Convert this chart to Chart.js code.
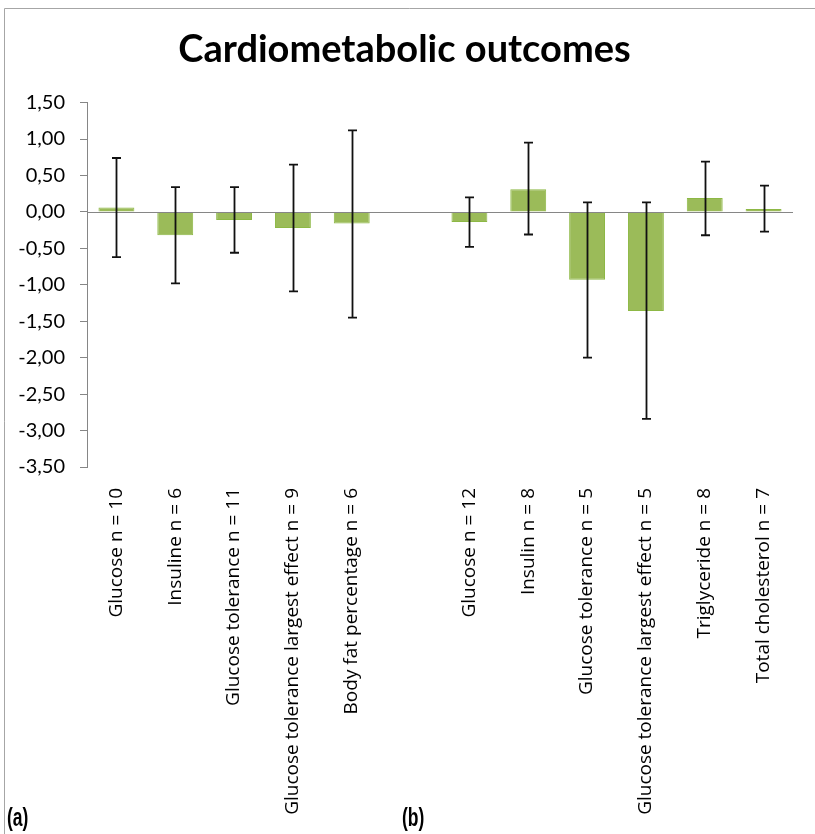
<!DOCTYPE html>
<html>
<head>
<meta charset="utf-8">
<script src="https://cdn.jsdelivr.net/npm/chart.js@4.4.1/dist/chart.umd.min.js"></script>
<style>
  html, body { margin: 0; padding: 0; background: #ffffff; }
  #wrap { position: relative; width: 815px; height: 834px; }
  canvas { display: block; }
</style>
</head>
<body>
<div id="wrap"><canvas id="c" width="815" height="834"></canvas></div>
<script>
// Outcome categories; the blank entry separates panel (a) from panel (b)
const categories = [
  'Glucose n = 10',
  'Insuline n = 6',
  'Glucose tolerance n = 11',
  'Glucose tolerance largest effect n = 9',
  'Body fat percentage n = 6',
  '',
  'Glucose n = 12',
  'Insulin n = 8',
  'Glucose tolerance n = 5',
  'Glucose tolerance largest effect n = 5',
  'Triglyceride n = 8',
  'Total cholesterol n = 7'
];

// Pooled effect sizes
const effects = [0.06, -0.32, -0.11, -0.22, -0.16, null, -0.14, 0.31, -0.93, -1.36, 0.19, 0.04];

// Confidence interval bounds
const ciLower = [-0.62, -0.98, -0.56, -1.09, -1.45, null, -0.48, -0.31, -2.00, -2.84, -0.32, -0.27];
const ciUpper = [0.74, 0.34, 0.34, 0.65, 1.12, null, 0.20, 0.95, 0.13, 0.13, 0.69, 0.36];

// Value axis ticks and their labels (decimal comma)
const yTickValues = [-3.5, -3.0, -2.5, -2.0, -1.5, -1.0, -0.5, 0.0, 0.5, 1.0, 1.5];
const yTickLabels = ['-3,50', '-3,00', '-2,50', '-2,00', '-1,50', '-1,00', '-0,50', '0,00', '0,50', '1,00', '1,50'];

const panelLabels = ['(a)', '(b)'];

const AXIS_GRAY = '#868686';

// Zero line over the bars, whiskers, frame and panel letters
const overlay = {
  id: 'overlay',
  afterDatasetsDraw(chart) {
    const { ctx, chartArea, scales } = chart;
    const x = scales.x, y = scales.y;
    ctx.save();
    // zero baseline
    const y0 = Math.round(y.getPixelForValue(0)) + 0.5;
    ctx.strokeStyle = AXIS_GRAY;
    ctx.lineWidth = 1;
    ctx.beginPath();
    ctx.moveTo(chartArea.left, y0);
    ctx.lineTo(chartArea.right, y0);
    ctx.stroke();
    // whiskers
    ctx.strokeStyle = '#111111';
    ctx.lineWidth = 1.8;
    const cap = 4.5;
    for (let i = 0; i < categories.length; i++) {
      if (effects[i] === null) continue;
      const px = Math.round(x.getPixelForValue(i)) + 0.5;
      const lo = y.getPixelForValue(ciLower[i]);
      const hi = y.getPixelForValue(ciUpper[i]);
      ctx.beginPath();
      ctx.moveTo(px, lo); ctx.lineTo(px, hi);
      ctx.moveTo(px - cap, lo); ctx.lineTo(px + cap, lo);
      ctx.moveTo(px - cap, hi); ctx.lineTo(px + cap, hi);
      ctx.stroke();
    }
    ctx.restore();
  },
  afterDraw(chart) {
    const { ctx, width, height } = chart;
    ctx.save();
    // outer frame (left and top edges)
    ctx.strokeStyle = '#a6a6a6';
    ctx.lineWidth = 1;
    ctx.beginPath();
    ctx.moveTo(4.5, height);
    ctx.lineTo(4.5, 8.5);
    ctx.lineTo(width, 8.5);
    ctx.stroke();
    // panel letters, condensed
    ctx.fillStyle = '#000000';
    ctx.font = 'bold 25px "Liberation Sans Narrow", "Arial Narrow", "Liberation Sans", sans-serif';
    ctx.textBaseline = 'alphabetic';
    ctx.textAlign = 'left';
    const sx = 0.7;
    ctx.scale(sx, 1);
    ctx.fillText(panelLabels[0], 7 / sx, 826);
    ctx.fillText(panelLabels[1], 402 / sx, 826);
    ctx.restore();
  }
};

new Chart(document.getElementById('c'), {
  type: 'bar',
  data: {
    labels: categories,
    datasets: [{
      data: effects,
      backgroundColor: '#9BBB59',
      borderColor: '#8DB845',
      borderWidth: 1,
      barPercentage: 0.61,
      categoryPercentage: 1.0
    }]
  },
  options: {
    responsive: false,
    animation: false,
    devicePixelRatio: 1,
    layout: { padding: { left: 16, right: 22, top: 0, bottom: 0 } },
    plugins: {
      legend: { display: false },
      tooltip: { enabled: false },
      title: {
        display: true,
        text: 'Cardiometabolic outcomes',
        color: '#000000',
        font: { family: 'Lato', size: 38, weight: 'bold', lineHeight: 1.2 },
        padding: { top: 27, bottom: 30 }
      }
    },
    scales: {
      x: {
        grid: { display: false },
        border: { display: false },
        ticks: {
          color: '#000000',
          font: { family: '"Open Sans", "Noto Sans", sans-serif', size: 19 },
          minRotation: 90,
          maxRotation: 90,
          autoSkip: false,
          padding: 13
        },
        afterFit(scale) { scale.height = 367; }
      },
      y: {
        min: -3.5,
        max: 1.5,
        afterBuildTicks(scale) {
          scale.ticks = yTickValues.map(v => ({ value: v }));
        },
        ticks: {
          color: '#000000',
          font: { family: 'Lato', size: 20 },
          padding: 15,
          callback(value, index) { return yTickLabels[index]; }
        },
        grid: {
          drawOnChartArea: false,
          drawTicks: true,
          tickLength: 7,
          tickColor: AXIS_GRAY,
          color: AXIS_GRAY
        },
        border: { display: true, color: AXIS_GRAY, width: 1 },
        afterFit(scale) { scale.width = 71; }
      }
    }
  },
  plugins: [overlay]
});
</script>
</body>
</html>
